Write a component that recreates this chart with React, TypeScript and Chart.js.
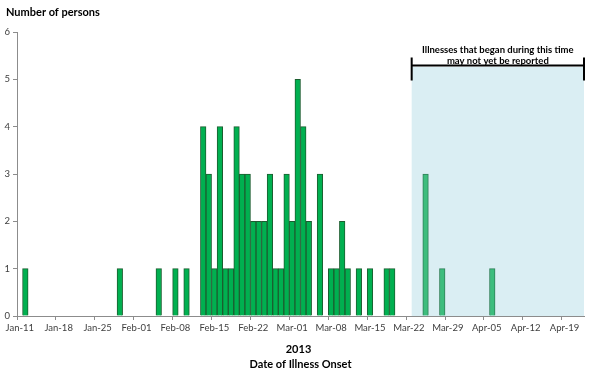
import React, { useEffect, useRef } from 'react';
import { Chart, registerables } from 'chart.js';

Chart.register(...registerables);

// ---- data ----
const firstDay = '2013-01-11';
const dayCount = 102;
const onsetDates = [
  '2013-01-12', '2013-01-29', '2013-02-05', '2013-02-08', '2013-02-10',
  '2013-02-13', '2013-02-14', '2013-02-15', '2013-02-16', '2013-02-17',
  '2013-02-18', '2013-02-19', '2013-02-20', '2013-02-21', '2013-02-22',
  '2013-02-23', '2013-02-24', '2013-02-25', '2013-02-26', '2013-02-27',
  '2013-02-28', '2013-03-01', '2013-03-02', '2013-03-03', '2013-03-04',
  '2013-03-06', '2013-03-08', '2013-03-09', '2013-03-10', '2013-03-11',
  '2013-03-13', '2013-03-15', '2013-03-18', '2013-03-19',
  '2013-03-25', '2013-03-28', '2013-04-06',
];
const onsetCounts = [
  1, 1, 1, 1, 1,
  4, 3, 1, 4, 1,
  1, 4, 3, 3, 2,
  2, 2, 3, 1, 1,
  3, 2, 5, 4, 2,
  3, 1, 1, 2, 1,
  1, 1, 1, 1,
  3, 1, 1,
];
const reportingLagStart = '2013-03-23';
const lagNote = ['Illnesses that began during this time', 'may not yet be reported'];
const yTitle = 'Number of persons';
const xTitle = ['2013', 'Date of Illness Onset'];
const monthNames = ['Jan', 'Feb', 'Mar', 'Apr', 'May', 'Jun', 'Jul', 'Aug', 'Sep', 'Oct', 'Nov', 'Dec'];

// ---- helpers ----
const DAY = 86400000;
const toUTC = (s: string) => {
  const [y, m, d] = s.split('-').map(Number);
  return Date.UTC(y, m - 1, d);
};
const startMs = toUTC(firstDay);
const dayIndex = (s: string) => Math.round((toUTC(s) - startMs) / DAY);

const dayLabels: string[] = [];
for (let i = 0; i < dayCount; i++) {
  const dt = new Date(startMs + i * DAY);
  dayLabels.push(monthNames[dt.getUTCMonth()] + '-' + String(dt.getUTCDate()).padStart(2, '0'));
}
const dailyCounts: number[] = dayLabels.map(() => 0);
onsetDates.forEach((d, i) => {
  dailyCounts[dayIndex(d)] = onsetCounts[i];
});
const lagIdx = dayIndex(reportingLagStart);

const FONT = 'Lato, "Open Sans", sans-serif';

export default function App() {
  const ref = useRef<HTMLCanvasElement | null>(null);
  useEffect(() => {
    if (!ref.current) return;
    const overlay = {
      id: 'overlay',
      beforeDatasetsDraw(chart: any) {
        const { ctx, chartArea } = chart;
        const xs = chart.scales.x;
        const slot = xs.getPixelForValue(1) - xs.getPixelForValue(0);
        const left = xs.getPixelForValue(lagIdx) - slot / 2;
        const top = chartArea.top + 35;
        ctx.save();
        ctx.fillStyle = '#DAEEF3';
        ctx.fillRect(left, top, chartArea.right - left, chartArea.bottom - top);
        ctx.restore();
      },
      afterDraw(chart: any) {
        const { ctx, chartArea } = chart;
        const xs = chart.scales.x;
        const slot = xs.getPixelForValue(1) - xs.getPixelForValue(0);
        const left = xs.getPixelForValue(lagIdx) - slot / 2;
        const right = chartArea.right;
        const lineY = chartArea.top + 33.5;
        ctx.save();
        ctx.strokeStyle = '#000';
        ctx.lineWidth = 2;
        ctx.beginPath();
        ctx.moveTo(left, lineY);
        ctx.lineTo(right, lineY);
        ctx.moveTo(left, lineY - 8);
        ctx.lineTo(left, lineY + 15);
        ctx.moveTo(right, lineY - 8);
        ctx.lineTo(right, lineY + 15);
        ctx.stroke();
        ctx.fillStyle = '#000';
        ctx.textAlign = 'center';
        ctx.textBaseline = 'middle';
        ctx.font = 'bold 9.5px ' + FONT;
        const cx = (left + right) / 2;
        ctx.fillText(lagNote[0], cx, lineY - 16);
        ctx.fillText(lagNote[1], cx, lineY - 4.5);
        // y title
        ctx.textAlign = 'left';
        ctx.font = 'bold 11px ' + FONT;
        ctx.fillText(yTitle, 6, 12);
        // x title
        ctx.textAlign = 'center';
        const mid = (chartArea.left + chartArea.right) / 2;
        ctx.fillText(xTitle[0], mid - 2, 349);
        ctx.fillText(xTitle[1], mid, 364);
        ctx.restore();
      },
    };
    const chart = new Chart(ref.current, {
      type: 'bar',
      data: {
        labels: dayLabels,
        datasets: [
          {
            data: dailyCounts,
            backgroundColor: dailyCounts.map((_, i) => (i >= lagIdx ? '#3DBD7D' : '#00B050')),
            borderColor: dailyCounts.map((_, i) => (i >= lagIdx ? '#2F7F57' : '#1C5E30')),
            borderWidth: 1,
            borderSkipped: 'start',
            barPercentage: 1,
            categoryPercentage: 1,
          },
        ],
      },
      options: {
        animation: false,
        responsive: false,
        events: [],
        layout: { padding: { top: 32, right: 16, bottom: 0, left: 0 } },
        plugins: { legend: { display: false }, tooltip: { enabled: false }, title: { display: false } },
        scales: {
          x: {
            offset: true,
            afterFit: (s: any) => {
              s.height = 58;
            },
            border: { display: true, color: '#8C8C8C', width: 1 },
            grid: {
              display: true,
              offset: true,
              drawOnChartArea: false,
              drawTicks: true,
              tickLength: 4,
              color: (c: any) => (c.index % 7 === 0 ? '#8C8C8C' : 'rgba(0,0,0,0)'),
            },
            ticks: {
              autoSkip: false,
              maxRotation: 0,
              minRotation: 0,
              padding: 2,
              color: '#404040',
              font: { family: FONT, size: 9.5 },
              callback: (_v: any, i: number) => (i % 7 === 0 ? dayLabels[i] : ''),
            },
          },
          y: {
            min: 0,
            max: 6,
            afterFit: (s: any) => {
              s.width = 17;
            },
            border: { display: true, color: '#8C8C8C', width: 1 },
            grid: { drawOnChartArea: false, drawTicks: true, tickLength: 4, color: '#8C8C8C' },
            ticks: {
              stepSize: 1,
              padding: 3,
              color: '#404040',
              font: { family: FONT, size: 9.5 },
            },
          },
        },
      },
      plugins: [overlay],
    } as any);
    return () => chart.destroy();
  }, []);
  return (
    <div style={{ position: 'fixed', left: 0, top: 0, width: 600, height: 374, background: '#fff' }}>
      <canvas ref={ref} width={600} height={374} style={{ width: 600, height: 374 }} />
    </div>
  );
}
